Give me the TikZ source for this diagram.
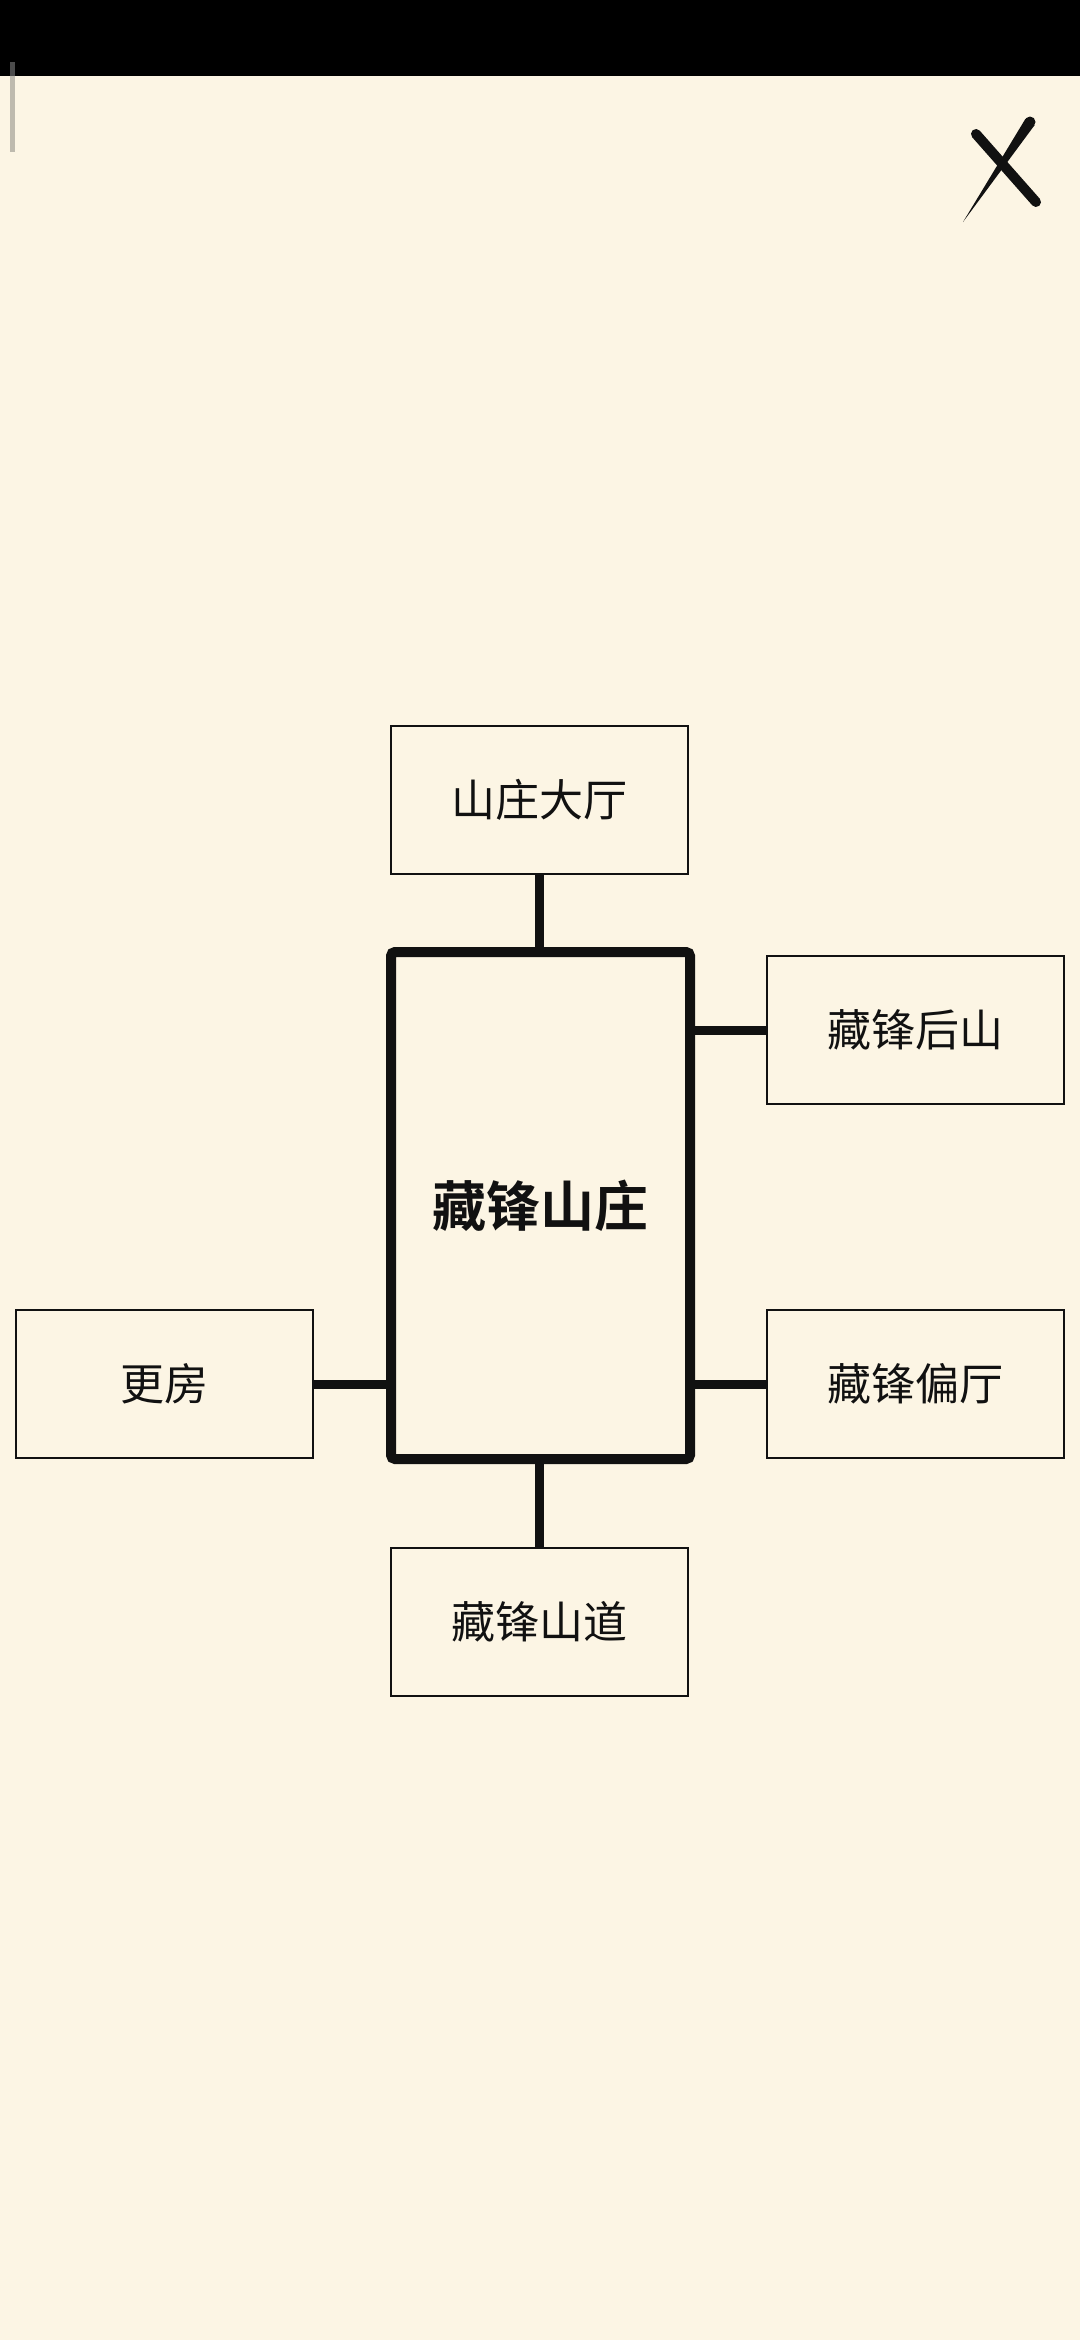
\documentclass[tikz,border=0pt]{standalone}
\usepackage{fontspec}
\newfontfamily\cjk{Noto Sans CJK SC}
\newfontfamily\cjkbold{Noto Sans CJK SC Bold}
\definecolor{bg}{HTML}{FCF5E4}
\definecolor{ink}{HTML}{111111}
\begin{document}
\begin{tikzpicture}[x=1pt,y=-1pt,
  room/.style={draw=ink, line width=2.6pt, minimum width=297pt, minimum height=148pt,
    inner sep=0pt, text=ink, font=\cjk\fontsize{44}{50}\selectfont},
  hub/.style={draw=ink, line width=10pt, rounded corners=4pt, minimum width=299pt,
    minimum height=507pt, inner sep=0pt, text=ink, font=\cjkbold\fontsize{54}{60}\selectfont},
  link/.style={draw=ink, line width=9pt}]
\useasboundingbox (0,0) rectangle (1080,2340);
\fill[bg] (0,0) rectangle (1080,2340);
\fill[black] (0,0) rectangle (1080,76);
% scroll indicator
\fill[black!20!bg!85!gray] (10,76) rectangle (15,152);
\fill[black!70] (10,62) rectangle (15,76);
% close mark
\draw[ink, line width=10pt, line cap=round] (976,134) -- (1036,202);
\fill[ink] (1030,122) circle (5.5pt);
\fill[ink] (1034.6,125.1) -- (963,222) -- (1025.4,118.9) -- cycle;
% nodes
\node[hub] (c) at (540.5,1205.5) {藏锋山庄};
\node[room] (hall) at (539.5,800) {山庄大厅};
\node[room] (back) at (915.5,1030) {藏锋后山};
\node[room] (side) at (915.5,1384) {藏锋偏厅};
\node[room] (geng) at (164.5,1384) {更房};
\node[room] (road) at (539.5,1622) {藏锋山道};
% connectors
\draw[link] (hall.south) -- (hall.south |- c.north);
\draw[link] (road.north) -- (road.north |- c.south);
\draw[link] (back.west) -- (back.west -| c.east);
\draw[link] (side.west) -- (side.west -| c.east);
\draw[link] (geng.east) -- (geng.east -| c.west);
\end{tikzpicture}
\end{document}
